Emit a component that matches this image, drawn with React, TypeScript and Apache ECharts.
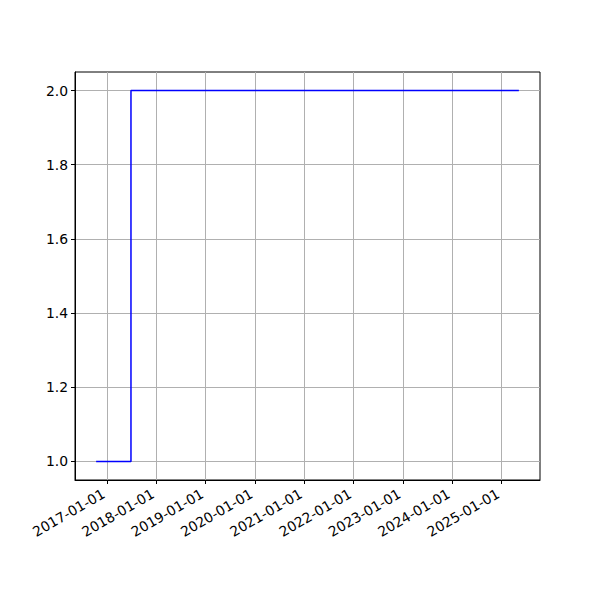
import React, { useEffect, useRef } from "react";
import * as echarts from "echarts";

const dates = ["2016-10-12", "2017-06-27", "2025-05-09"];
const values = [1, 2, 2];
const xTickLabels = [
  "2017-01-01", "2018-01-01", "2019-01-01", "2020-01-01", "2021-01-01",
  "2022-01-01", "2023-01-01", "2024-01-01", "2025-01-01",
];
const yTicks = [1.0, 1.2, 1.4, 1.6, 1.8, 2.0];

const ts = (s: string) => {
  const [y, m, d] = s.split("-").map(Number);
  return Date.UTC(y, m - 1, d);
};

export default function App() {
  const ref = useRef<HTMLDivElement>(null);
  useEffect(() => {
    if (!ref.current) return;
    const chart = echarts.init(ref.current, null, { renderer: "svg" });
    const xs = dates.map(ts);
    const xMinD = Math.min(...xs);
    const xMaxD = Math.max(...xs);
    const xPad = (xMaxD - xMinD) * 0.05;
    const yMinD = Math.min(...values);
    const yMaxD = Math.max(...values);
    const yPad = (yMaxD - yMinD) * 0.05;
    const xTickVals = xTickLabels.map(ts);
    const fmtDate = (v: number) => {
      const d = new Date(v);
      const p = (n: number) => String(n).padStart(2, "0");
      return `${d.getUTCFullYear()}-${p(d.getUTCMonth() + 1)}-${p(d.getUTCDate())}`;
    };
    const font = { fontFamily: "DejaVu Sans", fontSize: 13.9, color: "#000" };
    chart.setOption({
      animation: false,
      grid: {
        left: 75,
        right: 60,
        top: 72,
        bottom: 120,
        show: true,
        borderColor: "#000",
        borderWidth: 1,
        backgroundColor: "transparent",
      },
      xAxis: {
        type: "value",
        min: xMinD - xPad,
        max: xMaxD + xPad,
        axisLine: { show: true, onZero: false, lineStyle: { color: "#000", width: 1 } },
        axisTick: {
          show: true,
          length: 4,
          inside: false,
          customValues: xTickVals,
          lineStyle: { color: "#000", width: 1 },
        },
        axisLabel: {
          ...font,
          rotate: 30,
          margin: 10.5,
          padding: [0, 4, 0, 0],
          customValues: xTickVals,
          formatter: (v: number) => fmtDate(v),
        },
        splitLine: { show: true, lineStyle: { color: "#b0b0b0", width: 1 } },
      },
      yAxis: {
        type: "value",
        min: yMinD - yPad,
        max: yMaxD + yPad,
        axisLine: { show: true, onZero: false, lineStyle: { color: "#000", width: 1 } },
        axisTick: {
          show: true,
          length: 4,
          inside: false,
          customValues: yTicks,
          lineStyle: { color: "#000", width: 1 },
        },
        axisLabel: {
          ...font,
          margin: 7,
          customValues: yTicks,
          formatter: (v: number) => v.toFixed(1),
        },
        splitLine: { show: true, lineStyle: { color: "#b0b0b0", width: 1 } },
      },
      series: [
        {
          type: "line",
          step: "end",
          data: xs.map((x, i) => [x, values[i]]),
          showSymbol: false,
          symbol: "none",
          lineStyle: { color: "#0000ff", width: 1.5 },
          itemStyle: { color: "#0000ff" },
          z: 5,
        },
      ],
    });
    return () => chart.dispose();
  }, []);
  return <div ref={ref} style={{ width: 600, height: 600, margin: -8 }} />;
}
